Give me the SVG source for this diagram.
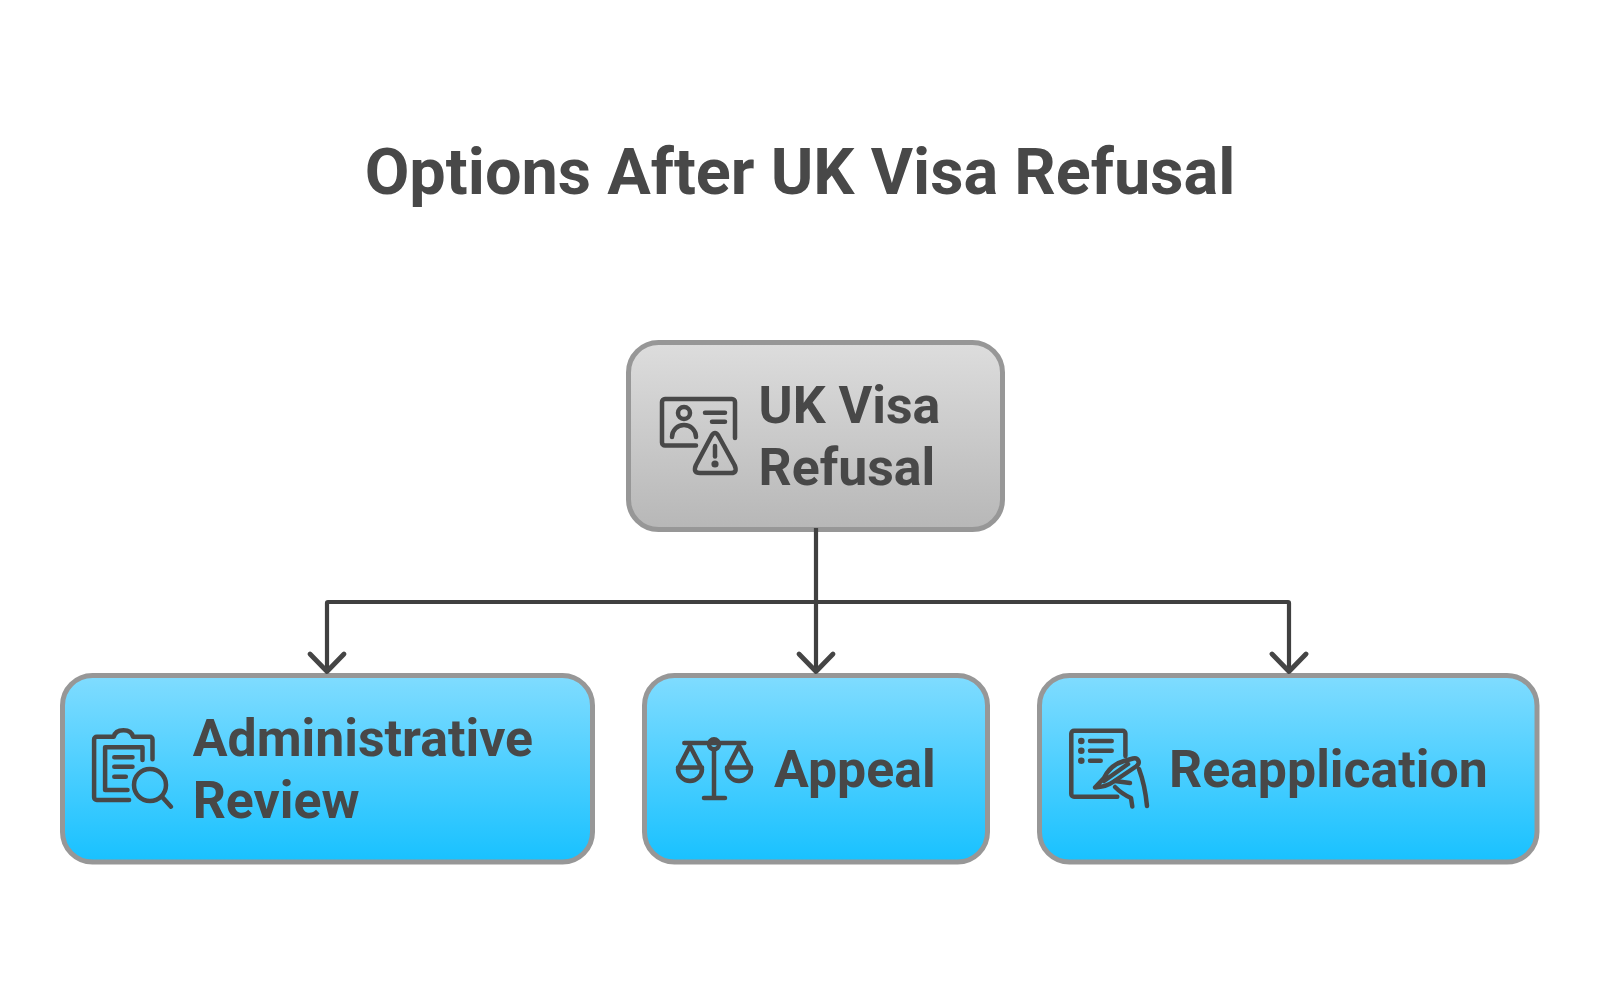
<svg xmlns="http://www.w3.org/2000/svg" width="1600" height="987" viewBox="0 0 1600 987">
<defs>
<linearGradient id="gGray" x1="0" y1="0" x2="0" y2="1"><stop offset="0" stop-color="#dddddd"/><stop offset="1" stop-color="#b7b7b7"/></linearGradient>
<linearGradient id="gBlue" x1="0" y1="0" x2="0" y2="1"><stop offset="0" stop-color="#80dcff"/><stop offset="1" stop-color="#18c1ff"/></linearGradient>
</defs>
<style>
text{font-family:Roboto,"Liberation Sans",sans-serif;font-weight:700;fill:#484848}
.lbl{font-size:51.8px}
.title{font-size:64.800px}
.box{stroke:#979797;stroke-width:5}
.ic{fill:none;stroke:#484848;stroke-width:4.500;stroke-linecap:round;stroke-linejoin:round}
.dot{fill:#484848}
.cn{fill:none;stroke:#404040;stroke-width:4.200;stroke-linejoin:round}
.ah{fill:none;stroke:#454545;stroke-width:4.800;stroke-linecap:round;stroke-linejoin:round}
</style>
<rect width="1600" height="987" fill="#ffffff"/>
<text class="title" x="800" y="194" text-anchor="middle">Options After UK Visa Refusal</text>
<g id="node-refusal">
<rect class="box" x="628.500" y="342.500" width="374" height="187" rx="30" fill="url(#gGray)"/>
<path class="ic" d="M696 445.500 H665 a3 3 0 0 1 -3 -3 V402 a3 3 0 0 1 3 -3 H732 a3 3 0 0 1 3 3 V438"/>
<circle class="ic" cx="684" cy="413" r="6"/>
<path class="ic" d="M672 437 a12 12 0 0 1 24 0 M705 412.700 H725 M712 421.700 H725"/>
<path class="ic" d="M711.500 436 L696 465 Q692.500 473 700 473 H731 Q738 473 734.500 465 L718.500 436 Q715 430 711.500 436 Z"/>
<path class="ic" d="M715 446 V456.500"/>
<circle class="dot" cx="715" cy="464" r="3.600"/>
<text class="lbl" x="758.500" y="423">UK Visa</text>
<text class="lbl" x="758.500" y="485">Refusal</text>
</g>
<g id="node-admin">
<rect class="box" x="62.500" y="675.500" width="530" height="186.500" rx="30" fill="url(#gBlue)"/>
<path class="ic" transform="translate(0.800 0)" d="M128.300 800 H96 a2.700 2.700 0 0 1 -2.700 -2.700 V739.500 a2.700 2.700 0 0 1 2.700 -2.700 H113 q1.500 -6.500 9.700 -6.500 q8 0 9.500 6.500 H149 a2.700 2.700 0 0 1 2.700 2.700 V759.300"/>
<path class="ic" transform="translate(0.800 0)" d="M126.700 790 H104.300 V747.300 H141.700 V760"/>
<path class="ic" transform="translate(0.800 0)" d="M113.500 757.300 H131.700 M113.500 766.700 H131.700 M113.500 776.700 H125"/>
<circle class="ic" cx="150" cy="785" r="16"/>
<path class="ic" d="M162 796.700 L171 806.700"/>
<text class="lbl" x="192.700" y="756">Administrative</text>
<text class="lbl" x="192.700" y="817.500">Review</text>
</g>
<g id="node-appeal">
<rect class="box" x="644.500" y="675.500" width="343" height="186.500" rx="30" fill="url(#gBlue)"/>
<path class="ic" d="M684.300 743 H744.300 M714 750 V797.500 M704 798 H725"/>
<circle class="ic" cx="714" cy="744.300" r="5"/>
<path class="ic" d="M690 746 L678.500 768 M690 746 L701.500 768 M678 767.500 H702 M678 769 a12 12 0 0 0 24 0 M739 746 L727.500 768 M739 746 L750.500 768 M727 767.500 H751 M727 769 a12 12 0 0 0 24 0"/>
<text class="lbl" x="774" y="787">Appeal</text>
</g>
<g id="node-reapp">
<rect class="box" x="1039.500" y="675.500" width="497.500" height="186.500" rx="30" fill="url(#gBlue)"/>
<path class="ic" transform="translate(0.600 0)" d="M1116.700 796.700 H1073.500 a2.800 2.800 0 0 1 -2.800 -2.800 V733.500 a2.800 2.800 0 0 1 2.800 -2.800 H1122 a2.800 2.800 0 0 1 2.800 2.800 V756"/>
<circle class="dot" cx="1081.300" cy="741" r="3.300"/>
<circle class="dot" cx="1081.300" cy="750.700" r="3.300"/>
<circle class="dot" cx="1081.300" cy="760.700" r="3.300"/>
<path class="ic" d="M1090 741 H1111.700 M1090 750.700 H1111.700 M1090 760.700 H1100.700"/>
<path class="ic" d="M1095 787.500 L1104 778 Q1110 765 1124 761 L1133 758.500 Q1137 757.500 1138.500 761 Q1139.500 764 1136 766.500 L1113 782 Q1106 787 1095 787.500 Z M1104 781 L1128 764"/>
<path class="ic" d="M1139 769 Q1145 785 1147 806 M1115 781 L1130 783 M1115 787 Q1122 794 1131 798 L1132.300 806.500"/>
<text class="lbl" x="1169" y="787">Reapplication</text>
</g>
<g id="connectors">
<path class="cn" d="M816 528 V672"/>
<path class="cn" d="M327 672 V603 Q327 602 328 602 H1288 Q1289 602 1289 603 V672"/>
<path class="ah" d="M310 654 L327 671.500 L344 654"/>
<path class="ah" d="M799 654 L816 671.500 L833 654"/>
<path class="ah" d="M1272 654 L1289 671.500 L1306 654"/>
</g>
</svg>
